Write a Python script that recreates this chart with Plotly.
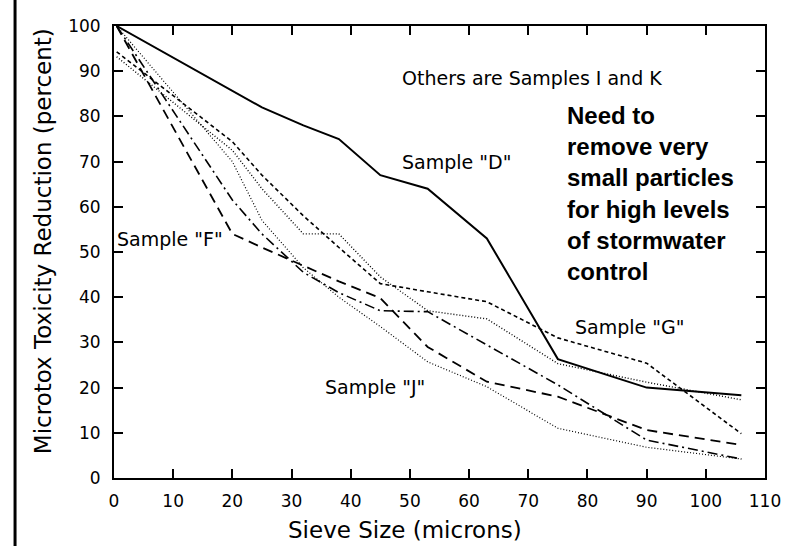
import plotly.graph_objects as go

# Sieve sizes (microns); first point is the unfiltered / 0.45 um reference
sieve = [0.45, 20, 25, 32, 38, 45, 53, 63, 75, 90, 106]

sample_d = [100, 85.8, 82.0, 78.0, 75.0, 67.0, 64.0, 53.0, 26.3, 20.0, 18.3]
sample_g = [94.3, 74.4, 67.0, 58.0, 51.0, 43.0, 41.2, 39.0, 31.0, 25.4, 9.8]
sample_i = [93.2, 72.5, 64.0, 54.0, 54.0, 44.5, 37.0, 35.2, 25.3, 21.2, 17.3]
sample_f = [100, 54.0, 51.0, 47.0, 43.5, 39.8, 29.0, 21.3, 18.0, 10.6, 7.3]
sample_k = [100, 61.5, 54.0, 45.5, 41.0, 37.0, 36.8, 29.5, 20.6, 8.4, 4.2]
sample_j = [100, 70.0, 57.0, 46.5, 40.0, 33.5, 25.7, 20.2, 11.0, 6.8, 4.2]

x_ticks = [0, 10, 20, 30, 40, 50, 60, 70, 80, 90, 100, 110]
y_ticks = [0, 10, 20, 30, 40, 50, 60, 70, 80, 90, 100]

series = [
    ("Sample D", sample_d, "solid", 2.0),
    ("Sample G", sample_g, "4px,3px", 1.6),
    ("Sample I", sample_i, "1px,2px", 1.4),
    ("Sample F", sample_f, "10px,6px", 1.8),
    ("Sample K", sample_k, "10px,4px,2px,4px", 1.6),
    ("Sample J", sample_j, "1px,2px", 1.2),
]

fig = go.Figure()
for name, vals, dash, w in series:
    fig.add_trace(go.Scatter(x=sieve, y=vals, mode="lines", name=name,
                             line=dict(color="black", width=w, dash=dash),
                             showlegend=False))

lab_font = dict(family="DejaVu Sans", size=19, color="black")
fig.add_annotation(x=48.4, y=88.4, xref="x", yref="y", text="Others are Samples I and K",
                   showarrow=False, xanchor="left", yanchor="middle", font=lab_font)
fig.add_annotation(x=48.4, y=70, xref="x", yref="y", text='Sample "D"',
                   showarrow=False, xanchor="left", yanchor="middle", font=lab_font)
fig.add_annotation(x=0.2, y=52.8, xref="x", yref="y", text='Sample "F"',
                   showarrow=False, xanchor="left", yanchor="middle", font=lab_font)
fig.add_annotation(x=77.5, y=33.3, xref="x", yref="y", text='Sample "G"',
                   showarrow=False, xanchor="left", yanchor="middle", font=lab_font)
fig.add_annotation(x=35.3, y=20.2, xref="x", yref="y", text='Sample "J"',
                   showarrow=False, xanchor="left", yanchor="middle", font=lab_font)
fig.add_annotation(x=76.2, y=83.6, xref="x", yref="y",
                   text="<b>Need to<br>remove very<br>small particles<br>for high levels<br>of stormwater<br>control</b>",
                   showarrow=False, xanchor="left", yanchor="top", align="left",
                   font=dict(family="Liberation Sans", size=24, color="black"))

# axis titles
fig.add_annotation(x=0.447, y=-0.115, xref="paper", yref="paper", text="Sieve Size (microns)",
                   showarrow=False, xanchor="center", yanchor="middle",
                   font=dict(family="DejaVu Sans", size=23, color="black"))
fig.add_annotation(x=-0.109, y=0.524, xref="paper", yref="paper",
                   text="Microtox Toxicity Reduction (percent)", textangle=-90,
                   showarrow=False, xanchor="center", yanchor="middle",
                   font=dict(family="DejaVu Sans", size=23, color="black"))

# left border rule of the page
fig.add_shape(type="line", xref="paper", yref="paper", x0=-0.152, x1=-0.152,
              y0=-0.16, y1=1.07, line=dict(color="black", width=3))

axis_common = dict(showline=True, linecolor="black", linewidth=2, mirror="ticks",
                   ticks="inside", ticklen=9, tickwidth=2, tickcolor="black",
                   showgrid=False, zeroline=False,
                   tickfont=dict(family="DejaVu Sans", size=17, color="black"))
fig.update_xaxes(range=[0, 110], tickvals=x_ticks, ticktext=[str(v) for v in x_ticks],
                 ticklabelstandoff=7, **axis_common)
fig.update_yaxes(range=[0, 100], tickvals=y_ticks, ticktext=[str(v) for v in y_ticks],
                 ticklabelstandoff=8, **axis_common)

fig.update_layout(width=800, height=546, margin=dict(l=114, r=35, t=26, b=68),
                  paper_bgcolor="white", plot_bgcolor="white")
fig.write_html("out.html")
